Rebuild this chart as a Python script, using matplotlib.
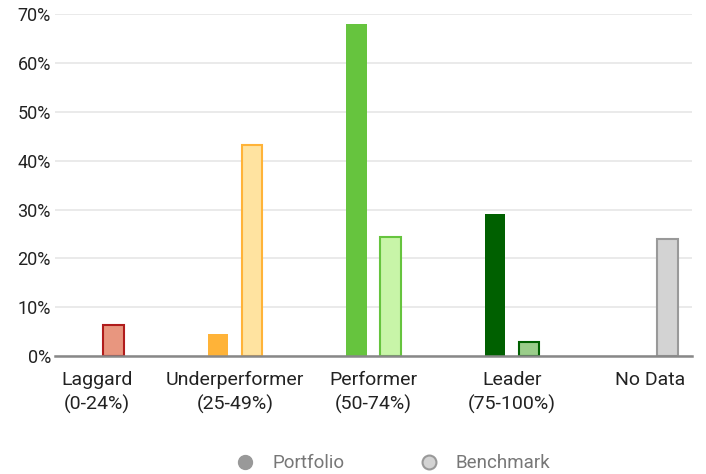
import matplotlib
matplotlib.use("Agg")
import matplotlib.pyplot as plt
import numpy as np
from matplotlib.lines import Line2D

# datos
categorias = ['Laggard\n(0-24%)', 'Underperformer\n(25-49%)', 'Performer\n(50-74%)',
              'Leader\n(75-100%)', 'No Data']
portfolio = [0.0, 4.5, 67.9, 29.1, 0.0]
benchmark = [6.3, 43.2, 24.4, 2.9, 23.9]

colores_port = ['#D9534F', '#FFB338', '#66C43E', '#006000', '#999999']
colores_bench = ['#E8967F', '#FFE3A0', '#C8F5A8', '#9ACD8A', '#D3D3D3']
bordes_bench = ['#B01C1C', '#FFB338', '#66C43E', '#006000', '#999999']

plt.rcParams['font.family'] = ['Roboto', 'DejaVu Sans']

fig = plt.figure(figsize=(7.06, 4.74), dpi=100)
ax = fig.add_axes([0.078, 0.249, 0.902, 0.721])

x = np.arange(len(categorias))
ancho = 0.15
desp = 0.123

ax.bar(x - desp, portfolio, width=ancho, color=colores_port, linewidth=0, zorder=3)
ax.bar(x + desp, benchmark, width=ancho, color=colores_bench,
       edgecolor=bordes_bench, linewidth=1.5, zorder=3)

ax.set_xlim(-0.3, 4.3)
ax.set_ylim(0, 70)
ax.set_yticks(range(0, 71, 10))
ax.set_yticklabels([f'{v}%' for v in range(0, 71, 10)], fontsize=13, color='#222222')
ax.set_xticks(x)
ax.set_xticklabels(categorias, fontsize=14, color='#222222', linespacing=1.38)
ax.tick_params(axis='both', length=0)
ax.tick_params(axis='x', pad=11)
ax.tick_params(axis='y', pad=3)

ax.grid(axis='y', color='#E6E6E6', linewidth=1.2, zorder=0)
for s in ['top', 'right', 'left']:
    ax.spines[s].set_visible(False)
ax.spines['bottom'].set_color('#888888')
ax.spines['bottom'].set_linewidth(1.8)
ax.spines['bottom'].set_zorder(4)

# leyenda
elems = [Line2D([0], [0], marker='o', linestyle='', markersize=10,
                markerfacecolor='#999999', markeredgecolor='#999999', label='Portfolio'),
         Line2D([0], [0], marker='o', linestyle='', markersize=10,
                markerfacecolor='#D3D3D3', markeredgecolor='#999999', markeredgewidth=1.5,
                label='Benchmark')]
leg = fig.legend(handles=elems, loc='center', bbox_to_anchor=(0.550, 0.023), ncol=2,
                 frameon=False, fontsize=13.5, columnspacing=3.5, handletextpad=0.45)
for t in leg.get_texts():
    t.set_color('#777777')

fig.savefig('out.png', dpi=100)
